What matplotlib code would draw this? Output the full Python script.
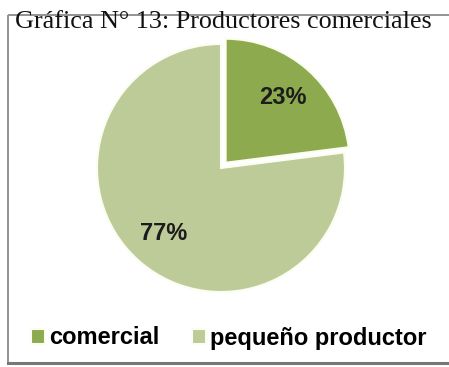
import matplotlib
matplotlib.use('Agg')
import matplotlib.pyplot as plt
from matplotlib.lines import Line2D

# Productores comerciales vs pequeños productores
labels = ['comercial', 'pequeño productor']
shares = [23, 77]
colors = ['#8dab4e', '#bccb98']
title = 'Gráfica N° 13: Productores comerciales'

W, H = 449, 367
fig = plt.figure(figsize=(W / 100, H / 100), dpi=100)
ax = fig.add_axes([0, 0, 1, 1])
ax.set_xlim(0, W)
ax.set_ylim(0, H)
ax.axis('off')

# gray frame around the chart (open on the right side)
frame_kw = dict(color='#8a8a8a', lw=1.3, solid_capstyle='butt')
ax.add_line(Line2D([8, 8], [4, 352], **frame_kw))
ax.add_line(Line2D([8, W], [352, 352], **frame_kw))
ax.add_line(Line2D([8, W], [4, 4], color='#777777', lw=2.2))

# explode is in data units here (pixels), the pie is drawn in pixel coords
wedges, texts, autotexts = ax.pie(
    shares, colors=colors, startangle=90, counterclock=False,
    center=(221, 199), radius=124, explode=[7, 0],
    autopct='%.0f%%', pctdistance=0.7, frame=True,
    wedgeprops=dict(edgecolor='#fbfdf0', linewidth=1.5),
    textprops=dict(fontsize=17, fontweight='bold', color='#1c1c1c',
                   family='Liberation Sans'))
ax.set_xlim(0, W)
ax.set_ylim(0, H)
ax.set_aspect('equal')

ax.text(15, 339, title, fontsize=18.8, family='Liberation Serif',
        color='#111111', va='baseline', ha='left')

fig.legend(wedges, labels, loc='center left',
           bbox_to_anchor=(31 / W, 29 / H), ncol=2, frameon=False,
           prop=dict(family='Liberation Sans', weight='bold', size=17),
           handlelength=0.6, handleheight=0.6, handletextpad=0.15,
           columnspacing=1.4, borderpad=0, borderaxespad=0)

fig.savefig('out.png', dpi=100)
